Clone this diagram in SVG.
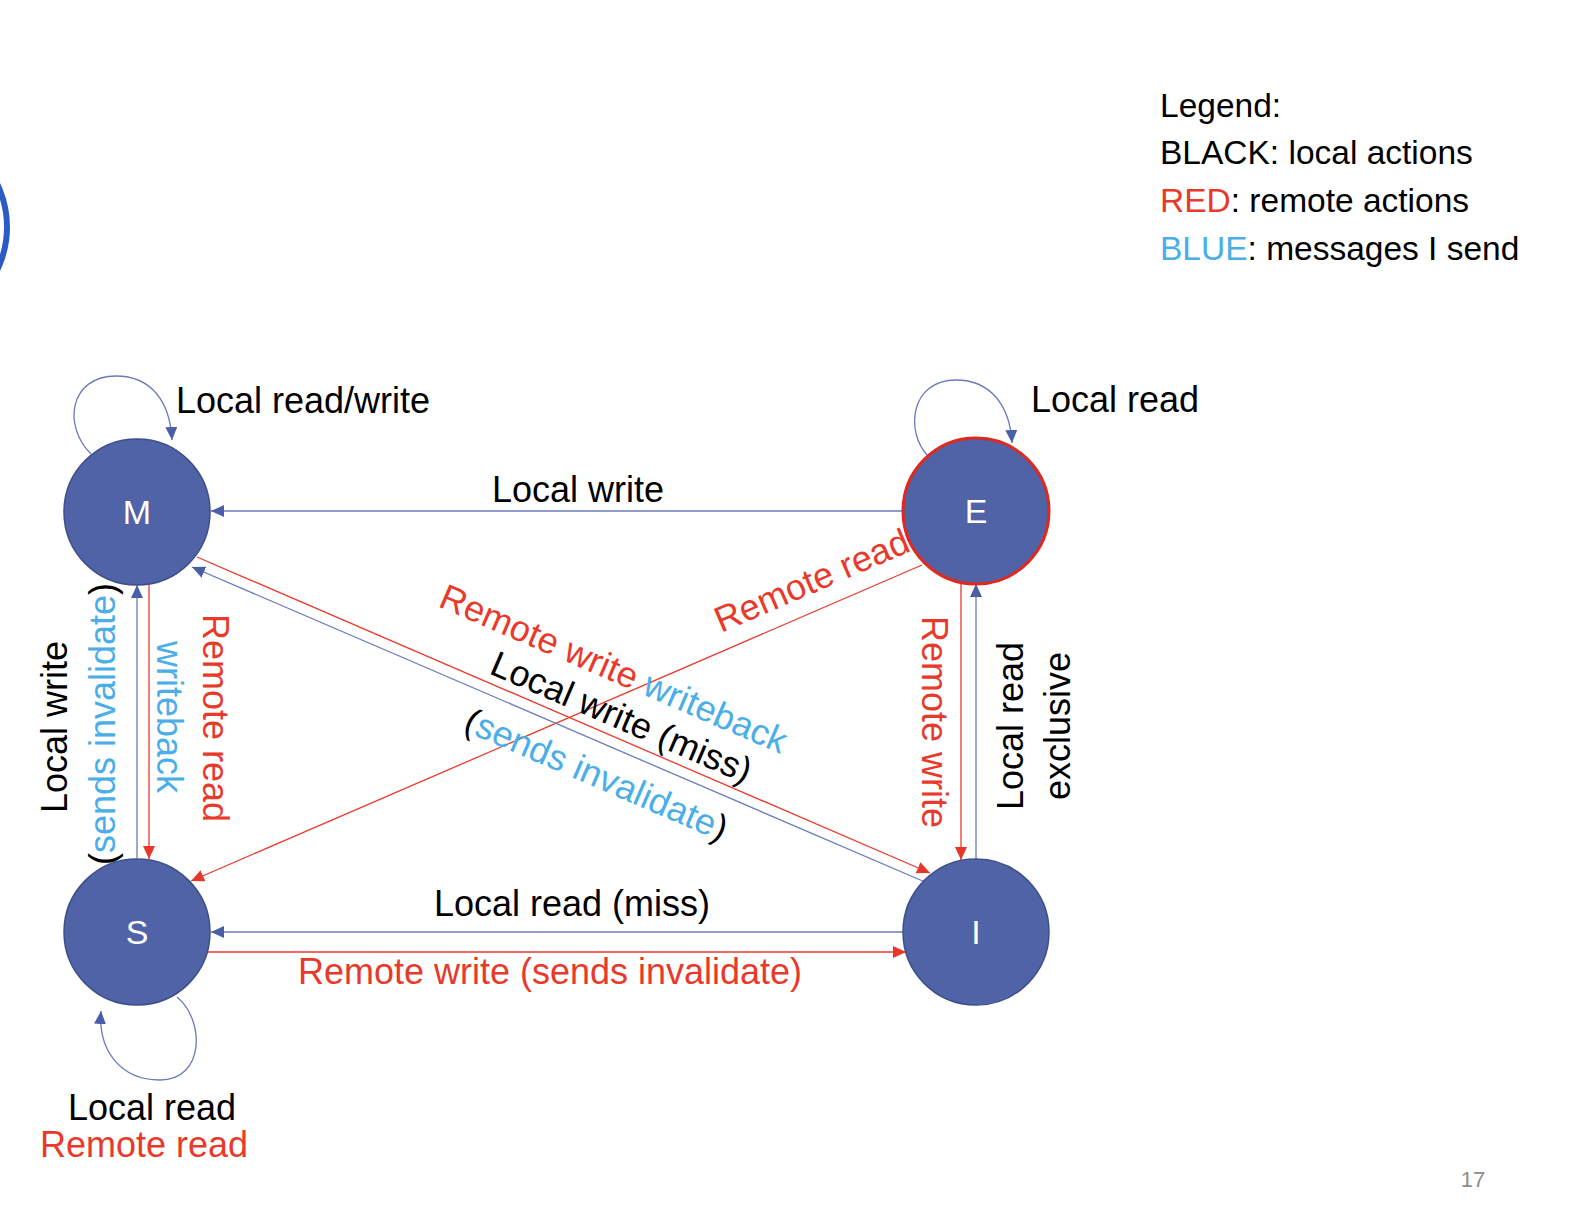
<svg xmlns="http://www.w3.org/2000/svg" width="1574" height="1224" viewBox="0 0 1574 1224">
<style>
.t{font-family:"Liberation Sans",Arial,sans-serif;font-size:36px;fill:#000}
.r{fill:#e9392b}
.b{fill:#4aaee9}
.k{fill:#000}
.lg{font-family:"Liberation Sans",Arial,sans-serif;font-size:33.5px;fill:#000}
.nl{font-family:"Liberation Sans",Arial,sans-serif;font-size:34px;fill:#fff;text-anchor:middle}
.node{fill:#4f63a6;stroke:#3d4f8a;stroke-width:1.5}
.lb{fill:none;stroke:#6a7bbd;stroke-width:1.3}
.lr{fill:none;stroke:#ea3a2e;stroke-width:1.3}
.mid{text-anchor:middle}
</style>
<defs>
<marker id="ab" viewBox="0 0 13 12" refX="13" refY="6" markerWidth="13" markerHeight="12" markerUnits="userSpaceOnUse" orient="auto"><path d="M0,0L13,6L0,12z" fill="#4a5ea8"/></marker>
<marker id="ar" viewBox="0 0 13 12" refX="13" refY="6" markerWidth="13" markerHeight="12" markerUnits="userSpaceOnUse" orient="auto"><path d="M0,0L13,6L0,12z" fill="#e8372a"/></marker>
</defs>
<rect width="1574" height="1224" fill="#fff"/>
<circle cx="-92" cy="227" r="99" fill="none" stroke="#2b5cc6" stroke-width="6"/>
<g id="legend">
<text class="lg" x="1160" y="117">Legend:</text>
<text class="lg" x="1160" y="164">BLACK: local actions</text>
<text class="lg" x="1160" y="212"><tspan class="r">RED</tspan>: remote actions</text>
<text class="lg" x="1160" y="260"><tspan class="b">BLUE</tspan>: messages I send</text>
</g>
<g id="connectors">
<path class="lb" d="M91,454 C62,425 70,376 116,376 C150,376 170,400 172,440" marker-end="url(#ab)"/>
<path class="lb" d="M928,456 C905,432 910,380 956,380 C990,380 1010,405 1012,443" marker-end="url(#ab)"/>
<path class="lb" d="M177,997 C205,1020 205,1080 160,1080 C120,1080 98,1050 101,1011" marker-end="url(#ab)"/>
<line class="lb" x1="903" y1="511" x2="211" y2="511" marker-end="url(#ab)"/>
<line class="lb" x1="137" y1="858" x2="137" y2="585" marker-end="url(#ab)"/>
<line class="lr" x1="149" y1="584" x2="149" y2="859" marker-end="url(#ar)"/>
<line class="lr" x1="961" y1="582" x2="961" y2="860" marker-end="url(#ar)"/>
<line class="lb" x1="976" y1="859" x2="976" y2="584" marker-end="url(#ab)"/>
<line class="lb" x1="904" y1="932" x2="211" y2="932" marker-end="url(#ab)"/>
<line class="lr" x1="207" y1="952" x2="906" y2="952" marker-end="url(#ar)"/>
<line class="lr" x1="922" y1="565" x2="191" y2="881" marker-end="url(#ar)"/>
<line class="lr" x1="197" y1="557" x2="930" y2="873" marker-end="url(#ar)"/>
<line class="lb" x1="925" y1="882" x2="192" y2="567" marker-end="url(#ab)"/>
</g>
<g id="node-M"><circle class="node" cx="137" cy="512" r="73"/><text class="nl" x="137" y="524">M</text></g>
<g id="node-E"><circle class="node" cx="976" cy="511" r="73" style="stroke:#e0281e;stroke-width:3"/><text class="nl" x="976" y="523">E</text></g>
<g id="node-S"><circle class="node" cx="137" cy="932" r="73"/><text class="nl" x="137" y="944">S</text></g>
<g id="node-I"><circle class="node" cx="976" cy="932" r="73"/><text class="nl" x="976" y="944">I</text></g>
<g id="labels">
<text class="t" x="176" y="413">Local read/write</text>
<text class="t" x="1031" y="412">Local read</text>
<text class="t mid" x="578" y="502">Local write</text>
<text class="t mid" x="572" y="916">Local read (miss)</text>
<text class="t mid r" x="550" y="984">Remote write (sends invalidate)</text>
<text class="t mid" x="152" y="1120">Local read</text>
<text class="t mid r" x="144" y="1157">Remote read</text>
<text class="t mid" transform="translate(67,727) rotate(-90)">Local write</text>
<text class="t mid" transform="translate(115,724) rotate(-90)">(<tspan class="b">sends invalidate</tspan>)</text>
<text class="t mid b" transform="translate(157,717) rotate(90)">writeback</text>
<text class="t mid r" transform="translate(203,718) rotate(90)">Remote read</text>
<text class="t mid r" transform="translate(922,722) rotate(90)">Remote write</text>
<text class="t mid" transform="translate(1023,726) rotate(-90)">Local read</text>
<text class="t mid" transform="translate(1070,726) rotate(-90)">exclusive</text>
<text class="t" transform="translate(437,606) rotate(23.3)"><tspan class="r">Remote write</tspan> <tspan class="b">writeback</tspan></text>
<text class="t" transform="translate(488,673) rotate(23.3)">Local write (miss)</text>
<text class="t" transform="translate(462,730) rotate(23.3)">(<tspan class="b">sends invalidate</tspan>)</text>
<text class="t r" transform="translate(721,633) rotate(-23.35)">Remote read</text>
</g>
<text x="1473" y="1187" style="font-family:'Liberation Sans',Arial,sans-serif;font-size:22px;fill:#8c8c8c;text-anchor:middle">17</text>
</svg>
